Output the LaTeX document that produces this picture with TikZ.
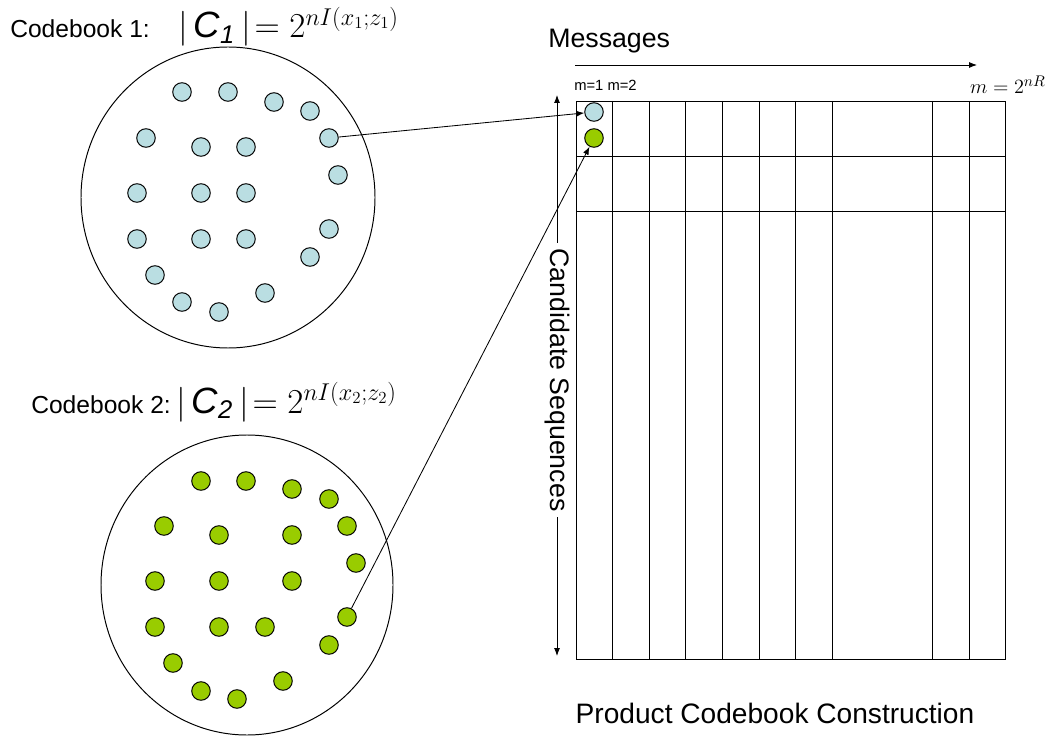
\documentclass[tikz,border=0pt]{standalone}
\usepackage{amsmath}
\usepackage{fontspec}
\setmainfont{Liberation Sans}
\usetikzlibrary{arrows.meta,positioning}
\definecolor{dotblue}{RGB}{186,222,226}
\definecolor{dotgreen}{RGB}{153,204,0}
\tikzset{
  pcbook/.style={draw, line width=0.7pt},
  pcdot/.style={circle, draw, line width=0.7pt, minimum size=13.2pt, inner sep=0pt},
  pcblue/.style={pcdot, fill=dotblue},
  pcgreen/.style={pcdot, fill=dotgreen},
  pcarrow/.style={-{Latex[length=2mm]}, line width=0.6pt},
  pcgrid/.style={draw, line width=0.6pt},
  pclabel/.style={font=\fontsize{17.5}{20}\selectfont, inner sep=0pt},
  pctitle/.style={font=\fontsize{19}{22}\selectfont},
}

\begin{document}
\begin{tikzpicture}[x=0.025cm, y=-0.025cm]
  \useasboundingbox (0,0) rectangle (1049,740);

  % codebook 1
  \node[pclabel, anchor=base west] (cb1) at (10,38) {Codebook 1:};
  \node[anchor=base west, inner sep=0pt, font=\fontsize{26}{30}\selectfont]
    (f1) at (178,38) {$|\,\textit{C}_{\textit{1}}\,|\!= 2^{nI(x_1;z_1)}$};
  \draw[pcbook] (228,197.5) ellipse [x radius=147, y radius=150.5];
  \foreach \x/\y [count=\i] in {182/92, 228/92, 274/102, 310/111, 146/138,
      201/147, 246/147, 329/138, 338/175, 137/193, 201/193, 246/193,
      137/239, 201/239, 246/239, 329/229, 310/257, 155/275, 182/302,
      219/312, 265/293}
    \node[pcblue] (a\i) at (\x,\y) {};

  % codebook 2
  \node[pclabel, anchor=base west] (cb2) at (31,413) {Codebook 2:};
  \node[anchor=base west, inner sep=0pt, font=\fontsize{26}{30}\selectfont]
    (f2) at (176,413) {$|\,\textit{C}_{\textit{2}}\,|\!= 2^{nI(x_2;z_2)}$};
  \draw[pcbook] (247,585) ellipse [x radius=146, y radius=150];
  \foreach \x/\y [count=\i] in {201/481, 246/481, 292/489, 329/499, 164/526,
      219/535, 292/535, 347/526, 356/563, 155/581, 219/581, 292/581,
      155/627, 219/627, 265/627, 347/617, 329/645, 173/663, 201/691,
      237/699, 283/681}
    \node[pcgreen] (b\i) at (\x,\y) {};

  % product codebook grid
  \draw[pcgrid] (576,101) rectangle (1005,659);
  \foreach \y in {156,211}
    \draw[pcgrid] (576,\y) -- (1005,\y);
  \foreach \x in {612,649,685,722,759,795,832,932,969}
    \draw[pcgrid] (\x,101) -- (\x,659);

  \node[pcblue] (g1) at (594,112) {};
  \node[pcgreen] (g2) at (594,138) {};

  \node[pctitle, anchor=base west, inner sep=0pt] (msg) at (548,48) {Messages};
  \coordinate (mL) at (575,65);
  \coordinate (mR) at (977,65);
  \draw[pcarrow] (mL) -- (mR);
  \node[anchor=base west, inner sep=0pt, font=\fontsize{10.5}{12}\selectfont]
    (m12) at (574,91) {m=1 m=2};
  \node[anchor=base east, inner sep=0pt, font=\fontsize{15.5}{18}\selectfont]
    (mmax) at (1046,94) {$m = 2^{nR}$};

  \node[pctitle, rotate=-90, inner sep=4pt] (cs) at (557,380) {Candidate Sequences};
  \coordinate (csT) at (557,95);
  \coordinate (csB) at (557,656);
  \draw[pcarrow] (cs.west) -- (csT);
  \draw[pcarrow] (cs.east) -- (csB);

  \node[pctitle, font=\fontsize{20}{23}\selectfont] (prod) at (775,713) {Product Codebook Construction};

  % links from the codebooks
  \draw[pcarrow] (a8) -- (g1);
  \draw[pcarrow] (b16) -- (g2);
\end{tikzpicture}
\end{document}
